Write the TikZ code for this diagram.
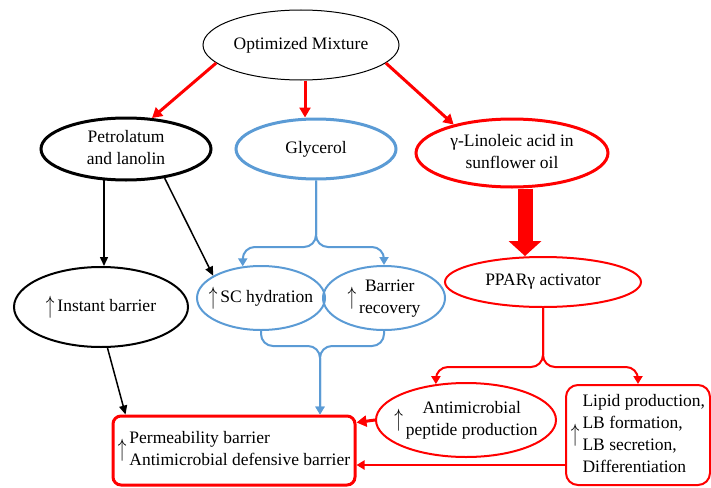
\documentclass[tikz,border=0pt]{standalone}
\usepackage{fontspec}
\setmainfont{Liberation Serif}
\usetikzlibrary{shapes.geometric, arrows.meta}
\definecolor{glyblue}{RGB}{91,155,213}
\newcommand{\upar}{\raisebox{-0.12em}{\scalebox{1}[1.45]{$\uparrow$}}\,}

\begin{document}
\begin{tikzpicture}[x=1pt, y=-1pt,
                    font=\fontsize{17.5}{22}\selectfont,
                    oval/.style={draw, ellipse, inner sep=0pt},
                    rbox/.style={draw=red, rounded corners=#1, inner sep=0pt},
                    redarrow/.style={draw=red, line width=3pt, -{Triangle[length=10pt,width=11pt]}},
                    blackarrow/.style={line width=1.5pt, -{Triangle[length=9pt,width=8pt]}},
                    blueflow/.style={draw=glyblue, line width=2pt, rounded corners=12pt, -{Triangle[length=8pt,width=9pt]}},
                    redflow/.style={draw=red, line width=2pt, rounded corners=12pt, -{Triangle[length=8pt,width=9pt]}}
                    ]
    \useasboundingbox (0,0) rectangle (711,487);

    % top
    \node[oval, line width=1pt, minimum width=196pt, minimum height=70pt,
          label={center:Optimized Mixture}] (mix) at (301,45) {};

    % the three ingredients
    \node[oval, line width=3pt, minimum width=170pt, minimum height=62pt,
          label={center:\begin{tabular}{@{}c@{}}Petrolatum\\and lanolin\end{tabular}}] (petro) at (126,149) {};
    \node[oval, draw=glyblue, line width=3pt, minimum width=160pt, minimum height=60pt,
          label={center:Glycerol}] (glyc) at (316,149) {};
    \node[oval, draw=red, line width=3pt, minimum width=192pt, minimum height=68pt,
          label={center:\begin{tabular}{@{}c@{}}γ-Linoleic acid in\\sunflower oil\end{tabular}}] (gla) at (512,153) {};

    % effects
    \node[oval, line width=2pt, minimum width=174pt, minimum height=80pt,
          label={center:\upar Instant barrier}] (instant) at (101,307) {};
    \node[oval, draw=glyblue, line width=2pt, minimum width=128pt, minimum height=64pt,
          label={center:\upar SC hydration}] (sc) at (261,298) {};
    \node[oval, draw=glyblue, line width=2pt, minimum width=122pt, minimum height=64pt,
          label={center:\upar\begin{tabular}{@{}c@{}}Barrier\\recovery\end{tabular}}] (rec) at (384,298) {};
    \node[oval, draw=red, line width=2pt, minimum width=196pt, minimum height=50pt,
          label={center:PPARγ activator}] (ppar) at (543,282) {};
    \node[oval, draw=red, line width=2pt, minimum width=180pt, minimum height=74pt,
          label={center:\upar\begin{tabular}{@{}c@{}}Antimicrobial\\peptide production\end{tabular}}] (antimic) at (466,420) {};
    \node[rbox=12pt, line width=2pt, minimum width=144pt, minimum height=100pt] (lipid) at (638,435)
          {\upar\begin{tabular}{@{}l@{}}Lipid production,\\LB formation,\\LB secretion,\\Differentiation\end{tabular}};
    \node[rbox=8pt, line width=3pt, minimum width=242pt, minimum height=69pt] (perm) at (234,450.5)
          {\upar\begin{tabular}{@{}l@{}}Permeability barrier\\Antimicrobial defensive barrier\end{tabular}};

    \coordinate (bluetop) at (316,247);
    \coordinate (bluejoin) at (320,346);
    \coordinate (redjoin) at (543,367);

    % from the mixture
    \draw[redarrow] (mix.192) -- (petro.50);
    \draw[redarrow] ([xshift=4pt]mix.south) -- ([xshift=4pt]mix.south |- glyc.north);
    \draw[redarrow] (mix.348) -- (gla.154);
    \draw[red, line width=15pt, -{Triangle[length=15pt,width=33pt,line width=0pt]}]
          ([xshift=13pt]gla.south) -- ([xshift=13pt]gla.south |- ppar.north);

    % petrolatum
    \draw[blackarrow] (petro.235) -- (petro.235 |- instant.north);
    \draw[blackarrow] (petro.323) -- (sc.155);
    \draw[blackarrow] (instant.279) -- ([xshift=14pt]perm.north west);

    % glycerol
    \draw[blueflow] (glyc.south) -- (bluetop) -| (sc.120);
    \draw[blueflow] (glyc.south) -- (bluetop) -| (rec.north);
    \draw[blueflow] (sc.south) |- (bluejoin) -- (bluejoin |- perm.north);
    \draw[blueflow] (rec.south) |- (bluejoin) -- (bluejoin |- perm.north);

    % PPAR
    \draw[redflow] (ppar.south) -- (redjoin) -| (antimic.130);
    \draw[redflow] (ppar.south) -- (redjoin) -| (lipid.north);
    \draw[redarrow] (antimic.west) -- ([yshift=-8pt]perm.north east);
    \draw[redflow] ([yshift=-30pt]lipid.west) -- ([yshift=-30pt]lipid.west -| perm.east);
\end{tikzpicture}
\end{document}
